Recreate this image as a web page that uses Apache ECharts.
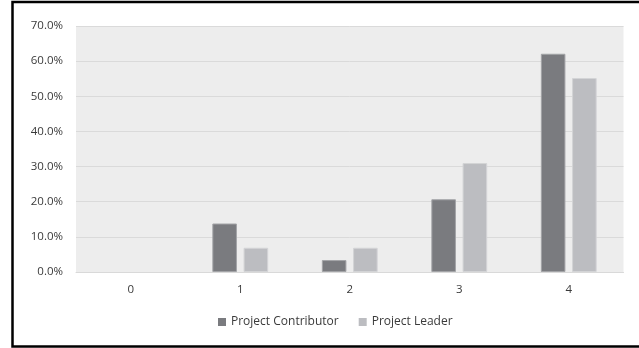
<!DOCTYPE html>
<html>
<head>
<meta charset="utf-8">
<script src="https://cdn.jsdelivr.net/npm/echarts@6/dist/echarts.min.js"></script>
<style>
  html, body { margin: 0; padding: 0; background: #fff; }
  #chart { width: 639px; height: 348px; }
</style>
</head>
<body>
<div id="chart"></div>
<script>
// Rating categories and share of respondents (%) per role
const categories = ['0', '1', '2', '3', '4'];
const contributorShare = [0, 13.8, 3.4, 20.7, 62.1];
const leaderShare = [0, 6.9, 6.9, 31.0, 55.2];
const seriesNames = ['Project Contributor', 'Project Leader'];

const FONT = '"Open Sans", "Noto Sans", sans-serif';

// zero-height bars get no outline so nothing is drawn for them
const toBarData = arr => arr.map(v => (v === 0 ? { value: v, itemStyle: { borderWidth: 0 } } : v));

const chart = echarts.init(document.getElementById('chart'), null, { renderer: 'canvas' });

chart.setOption({
  animation: false,
  backgroundColor: '#ffffff',
  textStyle: { fontFamily: FONT },
  graphic: [
    {
      type: 'polyline',
      silent: true,
      shape: { points: [[660, 2], [12.5, 2], [12.5, 346.5], [660, 346.5]] },
      style: { stroke: '#000000', lineWidth: 2.5, fill: null }
    }
  ],
  grid: {
    left: 76, right: 15.5, top: 26, bottom: 76,
    show: true, backgroundColor: '#ededed', borderWidth: 0
  },
  legend: {
    data: seriesNames,
    bottom: 15,
    left: 213,
    icon: 'rect',
    itemWidth: 8,
    itemHeight: 8,
    itemGap: 20,
    itemStyle: { borderWidth: 0 },
    textStyle: { color: '#3a3a3a', fontSize: 12, fontFamily: FONT }
  },
  xAxis: {
    type: 'category',
    data: categories,
    axisLine: { show: true, lineStyle: { color: '#d9d9d9', width: 1 } },
    axisTick: { show: false },
    axisLabel: { color: '#3a3a3a', fontSize: 11.5, margin: 12, fontFamily: FONT },
    splitLine: { show: false }
  },
  yAxis: {
    type: 'value',
    min: 0, max: 70, interval: 10,
    axisLine: { show: false },
    axisTick: { show: false },
    axisLabel: {
      color: '#3a3a3a', fontSize: 11.5, margin: 13, fontFamily: FONT,
      formatter: v => v.toFixed(1) + '%'
    },
    splitLine: { lineStyle: { color: '#dadada', width: 1 } }
  },
  series: [
    {
      name: seriesNames[0],
      type: 'bar',
      data: toBarData(contributorShare),
      barWidth: 24.6,
      barGap: '27%',
      itemStyle: { color: '#7a7b7f', borderColor: '#a3a4a7', borderWidth: 1 }
    },
    {
      name: seriesNames[1],
      type: 'bar',
      data: toBarData(leaderShare),
      barWidth: 24.6,
      itemStyle: { color: '#bcbdc1', borderColor: '#d3d4d6', borderWidth: 1 }
    }
  ]
});
</script>
</body>
</html>
